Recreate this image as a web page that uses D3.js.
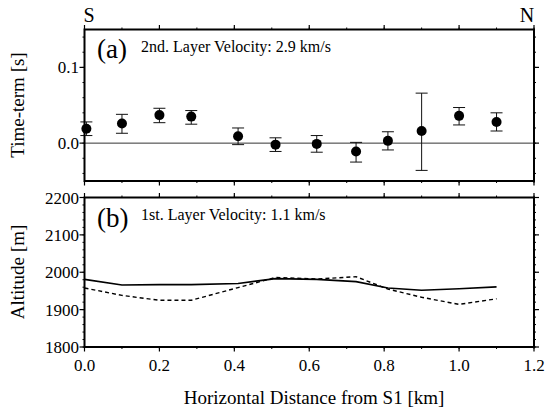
<!DOCTYPE html>
<html><head><meta charset="utf-8">
<script src="https://cdn.jsdelivr.net/npm/d3@7"></script>
<style>
html,body{margin:0;padding:0;background:#fff;}
text{font-family:"Liberation Serif","DejaVu Serif",serif;}
</style></head>
<body>
<svg id="c" width="559" height="408"></svg>
<script>
// ---- data ----
const stations = [0.005, 0.1, 0.2, 0.285, 0.41, 0.51, 0.62, 0.725, 0.81, 0.9, 1.0, 1.1];
const timeTerm = [0.019, 0.026, 0.037, 0.035, 0.009, -0.002, -0.001, -0.011, 0.003, 0.016, 0.036, 0.028];
const errLow  = [0.010, 0.013, 0.027, 0.025, -0.002, -0.011, -0.012, -0.025, -0.009, -0.036, 0.024, 0.016];
const errHigh = [0.028, 0.038, 0.046, 0.043, 0.020, 0.007, 0.010, 0.001, 0.015, 0.066, 0.047, 0.040];
const lineX = [0.0, 0.1, 0.2, 0.285, 0.41, 0.51, 0.62, 0.725, 0.81, 0.9, 1.0, 1.1];
const surfaceAlt = [1981, 1966, 1967, 1967, 1970, 1983, 1981, 1975, 1958, 1952, 1956, 1961];
const layerAlt = [1958, 1938, 1925, 1925, 1959, 1986, 1982, 1988, 1955, 1933, 1914, 1929];
const xTicks = [0.0, 0.2, 0.4, 0.6, 0.8, 1.0, 1.2];
const ttTicks = [0.0, 0.1];
const altTicks = [1800, 1900, 2000, 2100, 2200];

const svg = d3.select("#c").attr("font-family", "Liberation Serif, DejaVu Serif, serif");
const L = 84.5, R = 534;
const x = d3.scaleLinear().domain([0, 1.2]).range([L, R]);
const yA = d3.scaleLinear().domain([-0.05, 0.15]).range([181, 29.5]);
const yB = d3.scaleLinear().domain([1800, 2200]).range([347, 197.5]);

function ticks(scale, vals, side, pos, len, sw) {
  const g = svg.append("g").attr("stroke", "#000").attr("stroke-width", sw);
  vals.forEach(v => {
    const p = scale(v);
    if (side === "top") g.append("line").attr("x1", p).attr("x2", p).attr("y1", pos).attr("y2", pos - len);
    if (side === "bottom") g.append("line").attr("x1", p).attr("x2", p).attr("y1", pos).attr("y2", pos + len);
    if (side === "left") g.append("line").attr("y1", p).attr("y2", p).attr("x1", pos).attr("x2", pos - len);
    if (side === "right") g.append("line").attr("y1", p).attr("y2", p).attr("x1", pos).attr("x2", pos + len);
  });
}
const minorX = d3.range(0, 1.21, 0.1).map(v => +v.toFixed(2));
function panelTicks(y, yMajor, yMinor, top, bottom) {
  ticks(x, minorX, "top", top, 2, 1);
  ticks(x, xTicks, "top", top, 4.5, 1.2);
  ticks(x, minorX, "bottom", bottom, 2, 1);
  ticks(x, xTicks, "bottom", bottom, 4.5, 1.2);
  ticks(y, yMinor, "left", L, 2, 1);
  ticks(y, yMajor, "left", L, 5, 1.2);
  ticks(y, yMinor, "right", R, 2, 1);
  ticks(y, yMajor, "right", R, 5, 1.2);
}

// ---- panel (a) ----
panelTicks(yA, ttTicks, d3.range(-0.04, 0.1501, 0.02).map(v => +v.toFixed(3)), 29.5, 181);
svg.append("line").attr("x1", L).attr("x2", R).attr("y1", yA(0)).attr("y2", yA(0))
  .attr("stroke", "#333").attr("stroke-width", 1);
const eb = svg.append("g").attr("stroke", "#111").attr("stroke-width", 1);
stations.forEach((s, i) => {
  const px = x(s);
  eb.append("line").attr("x1", px).attr("x2", px).attr("y1", yA(errLow[i])).attr("y2", yA(errHigh[i]));
  eb.append("line").attr("x1", px - 6).attr("x2", px + 6).attr("y1", yA(errLow[i])).attr("y2", yA(errLow[i]));
  eb.append("line").attr("x1", px - 6).attr("x2", px + 6).attr("y1", yA(errHigh[i])).attr("y2", yA(errHigh[i]));
});
svg.append("g").selectAll("circle").data(stations).join("circle")
  .attr("cx", d => x(d)).attr("cy", (d, i) => yA(timeTerm[i])).attr("r", 5).attr("fill", "#000");
svg.append("rect").attr("x", L).attr("y", 29.5).attr("width", R - L).attr("height", 181 - 29.5)
  .attr("fill", "none").attr("stroke", "#000").attr("stroke-width", 2);
svg.append("g").selectAll("text").data(ttTicks).join("text")
  .attr("x", 79).attr("y", d => yA(d) + 6).attr("text-anchor", "end").attr("font-size", 17)
  .text(d => d.toFixed(1));
svg.append("text").attr("x", 97).attr("y", 58).attr("font-size", 27).text("(a)");
svg.append("text").attr("x", 141).attr("y", 52).attr("font-size", 16).text("2nd. Layer Velocity: 2.9 km/s");
svg.append("text").attr("transform", "translate(24,105) rotate(-90)").attr("text-anchor", "middle")
  .attr("font-size", 19).text("Time-term [s]");
svg.append("text").attr("x", 89).attr("y", 22).attr("text-anchor", "middle").attr("font-size", 20).text("S");
svg.append("text").attr("x", 527).attr("y", 22).attr("text-anchor", "middle").attr("font-size", 20).text("N");

// ---- panel (b) ----
panelTicks(yB, altTicks, d3.range(1800, 2201, 20), 197.5, 347);
const line = d3.line().x((d, i) => x(lineX[i])).y(d => yB(d));
svg.append("path").datum(surfaceAlt).attr("d", line).attr("fill", "none")
  .attr("stroke", "#000").attr("stroke-width", 1.6);
svg.append("path").datum(layerAlt).attr("d", line).attr("fill", "none")
  .attr("stroke", "#000").attr("stroke-width", 1.4).attr("stroke-dasharray", "4,3");
svg.append("rect").attr("x", L).attr("y", 197.5).attr("width", R - L).attr("height", 347 - 197.5)
  .attr("fill", "none").attr("stroke", "#000").attr("stroke-width", 2);
svg.append("g").selectAll("text").data(altTicks).join("text")
  .attr("x", 79).attr("y", d => yB(d) + 6).attr("text-anchor", "end").attr("font-size", 17)
  .text(d => d);
svg.append("g").selectAll("text").data(xTicks).join("text")
  .attr("x", d => x(d)).attr("y", 371).attr("text-anchor", "middle").attr("font-size", 17)
  .text(d => d.toFixed(1));
svg.append("text").attr("x", 97).attr("y", 227).attr("font-size", 27).text("(b)");
svg.append("text").attr("x", 141).attr("y", 220).attr("font-size", 16).text("1st. Layer Velocity: 1.1 km/s");
svg.append("text").attr("transform", "translate(24,272) rotate(-90)").attr("text-anchor", "middle")
  .attr("font-size", 19).text("Altitude [m]");
svg.append("text").attr("x", 314).attr("y", 404).attr("text-anchor", "middle").attr("font-size", 19)
  .text("Horizontal Distance from S1 [km]");
</script>
</body></html>
